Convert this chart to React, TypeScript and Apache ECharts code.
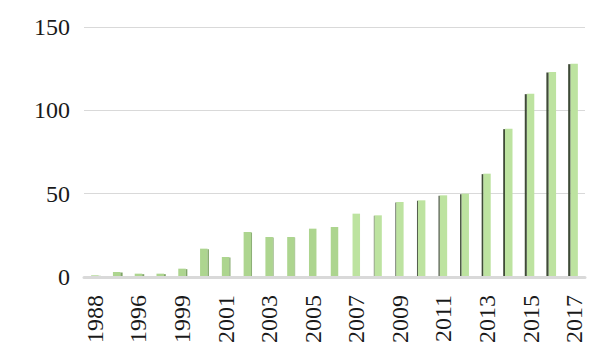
import React, { useEffect, useRef } from "react";
import * as echarts from "echarts";

const categories = [
  "1988", "1995", "1996", "1998", "1999", "2000", "2001", "2002", "2003", "2004",
  "2005", "2006", "2007", "2008", "2009", "2010", "2011", "2012", "2013", "2014",
  "2015", "2016", "2017",
];
const values = [1, 3, 2, 2, 5, 17, 12, 27, 24, 24, 29, 30, 38, 37, 45, 46, 49, 50, 62, 89, 110, 123, 128];
const yTicks = { min: 0, max: 150, interval: 50 };

export default function App() {
  const ref = useRef<HTMLDivElement>(null);
  useEffect(() => {
    document.body.style.margin = "0";
    const chart = echarts.init(ref.current!, null, { renderer: "svg" });
    const font = "Liberation Serif";
    chart.setOption({
      animation: false,
      grid: { left: 84, right: 15, top: 27, bottom: 87, containLabel: false },
      xAxis: {
        type: "category",
        data: categories,
        boundaryGap: true,
        axisLine: { show: true, lineStyle: { color: "#d9d9d9", width: 3 } },
        axisTick: { show: false },
        axisLabel: {
          rotate: 90,
          interval: 1,
          fontSize: 24,
          fontFamily: font,
          color: "#1a1a1a",
          margin: 18,
        },
      },
      yAxis: {
        type: "value",
        min: yTicks.min,
        max: yTicks.max,
        interval: yTicks.interval,
        axisLine: { show: false },
        axisTick: { show: false },
        splitLine: { lineStyle: { color: "#d9d9d9", width: 1 } },
        axisLabel: { fontSize: 24, fontFamily: font, color: "#1a1a1a", margin: 14 },
      },
      series: [
        {
          type: "custom",
          data: values.map((v, i) => [i, v]),
          encode: { x: 0, y: 1 },
          renderItem: (params: any, api: any) => {
            const i = api.value(0);
            const v = api.value(1);
            const top = api.coord([i, v]);
            const bot = api.coord([i, 0]);
            const cx = params.coordSys.x + params.coordSys.width / 2;
            const faceW = 7.5;
            const rel = (top[0] - cx) / (params.coordSys.width / 2);
            const sideW = Math.min(2.2, Math.abs(rel) * 2.6);
            const x0 = top[0] - faceW / 2;
            const h = bot[1] - top[1] - 1;
            const children: any[] = [];
            const faceColor = rel > 0 ? "#bde3a0" : "#add58f";
            children.push({
              type: "rect",
              shape: { x: x0, y: top[1], width: faceW, height: h },
              style: { fill: faceColor },
            });
            if (sideW > 0.4) {
              const sx = rel > 0 ? x0 - sideW : x0 + faceW;
              children.push({
                type: "rect",
                shape: { x: sx, y: top[1] + 0.5, width: sideW, height: h - 0.5 },
                style: { fill: rel > 0 ? "#3f4b37" : "#7fa566" },
              });
            }
            return { type: "group", children };
          },
        },
      ],
    });
    return () => chart.dispose();
  }, []);
  return <div ref={ref} style={{ width: 600, height: 364 }} />;
}
